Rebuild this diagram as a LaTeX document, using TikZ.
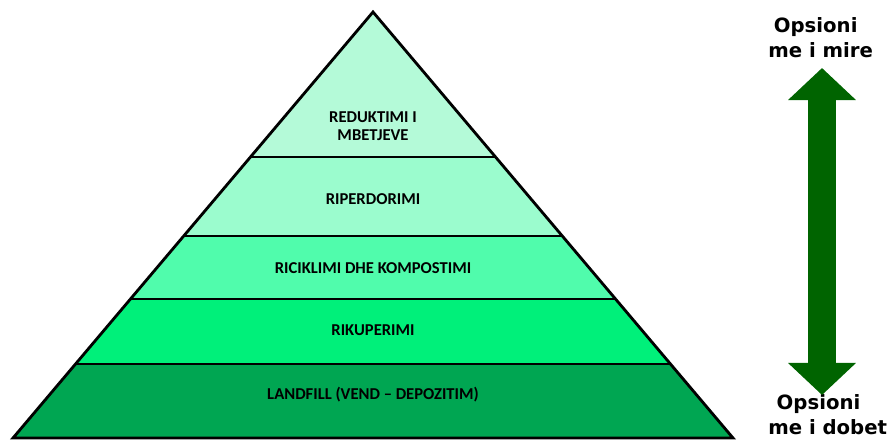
\documentclass[tikz,border=0pt]{standalone}
\usepackage{fontspec}
\newfontfamily\bandfont{Carlito}
\newfontfamily\optfont{DejaVu Sans}
\usetikzlibrary{arrows.meta}

\definecolor{bandA}{RGB}{180,250,216}
\definecolor{bandB}{RGB}{155,252,206}
\definecolor{bandC}{RGB}{80,252,172}
\definecolor{bandD}{RGB}{0,240,122}
\definecolor{bandE}{RGB}{0,166,82}
\definecolor{arrowgreen}{RGB}{0,100,0}

\tikzset{
    band/.style={font=\bandfont\bfseries\fontsize{11.8}{12.5}\selectfont, align=center},
    option/.style={font=\optfont\bfseries\fontsize{14}{17.7}\selectfont, align=left, anchor=north west, inner sep=0pt},
    layer/.style={black, line width=2pt}
}

\begin{document}
\begin{tikzpicture}[x=0.025cm, y=-0.025cm]
    \useasboundingbox (0,0) rectangle (892,441);
    \coordinate (top) at (373,12);
    \coordinate (baseL) at (13,438);
    \coordinate (baseR) at (733,438);
    % layers
    \begin{scope}
        \clip (top) -- (baseL) -- (baseR) -- cycle;
        \fill[bandA] (0,0) rectangle (892,157);
        \fill[bandB] (0,157) rectangle (892,236);
        \fill[bandC] (0,236) rectangle (892,299);
        \fill[bandD] (0,299) rectangle (892,364);
        \fill[bandE] (0,364) rectangle (892,441);
        \draw[layer] (0,157) -- (892,157);
        \draw[layer] (0,236) -- (892,236);
        \draw[layer] (0,299) -- (892,299);
        \draw[layer] (0,364) -- (892,364);
    \end{scope}
    \draw[black, line width=2pt, line join=miter] (top) -- (baseL) -- (baseR) -- cycle;
    % labels
    \node[band] (reduce) at (373,126) {REDUKTIMI I\\MBETJEVE};
    \node[band] (reuse) at (373,199) {RIPERDORIMI};
    \node[band] (recycle) at (373,268) {RICIKLIMI DHE KOMPOSTIMI};
    \node[band] (recover) at (373,330) {RIKUPERIMI};
    \node[band] (landfill) at (373,395) {LANDFILL (VEND – DEPOZITIM)};
    % scale of options
    \node[option] (bestlabel) at (768,17) {\hspace{4pt}Opsioni\\me i mire};
    \node[option] (worstlabel) at (768,394) {\hspace{6pt}Opsioni\\me i dobet};
    \coordinate (best) at (822,68);
    \coordinate (worst) at (822,395);
    \draw[arrowgreen, line width=0.7cm,
        {Triangle[width=1.65cm,length=0.8cm]}-{Triangle[width=1.65cm,length=0.8cm]}]
        (best) -- (worst);
\end{tikzpicture}
\end{document}
